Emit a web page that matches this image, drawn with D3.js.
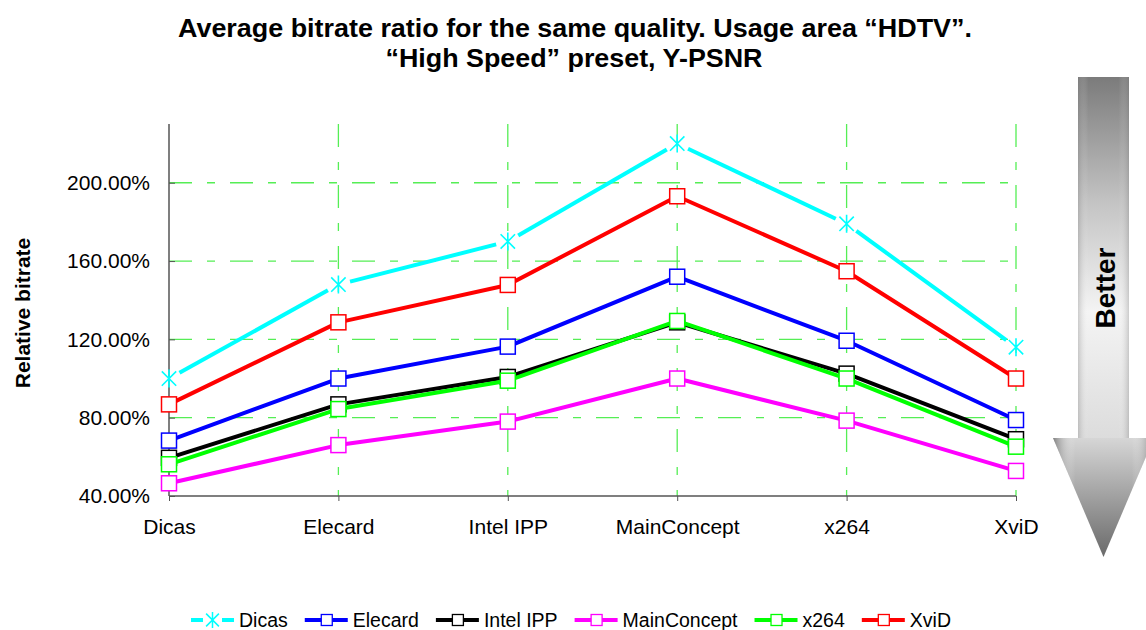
<!DOCTYPE html>
<html>
<head>
<meta charset="utf-8">
<script src="https://cdn.jsdelivr.net/npm/d3@7"></script>
<style>
    body { margin: 0; background: #ffffff; }
    text { font-family: "Liberation Sans", Arial, sans-serif; fill: #000000; }
</style>
</head>
<body>
<script>
// categories on the x axis (reference codec)
const categories = ["Dicas", "Elecard", "Intel IPP", "MainConcept", "x264", "XviD"];

// series values, relative bitrate (1 = 100%)
const dicasValues = [1.0, 1.48, 1.7, 2.2, 1.79, 1.16];
const elecardValues = [0.683, 1.0, 1.163, 1.52, 1.193, 0.788];
const intelValues = [0.595, 0.868, 1.008, 1.287, 1.025, 0.69];
const mainConceptValues = [0.465, 0.66, 0.78, 1.0, 0.785, 0.528];
const x264Values = [0.562, 0.844, 0.989, 1.294, 1.0, 0.652];
const xvidValues = [0.868, 1.287, 1.478, 1.931, 1.548, 1.0];

const seriesNames = ["Dicas", "Elecard", "Intel IPP", "MainConcept", "x264", "XviD"];
const seriesColors = ["#00ffff", "#0000ff", "#000000", "#ff00ff", "#00ff00", "#ff0000"];
const yTickValues = [0.4, 0.8, 1.2, 1.6, 2.0];
const yDomain = [0.4, 2.3];

(function () {
    "use strict";

    const width = 1146;
    const height = 630;
    const plot = { left: 169, right: 1016, top: 124, bottom: 496 };
    const gridColor = "#55ee55";
    const gridDash = "23,15,8,15";

    const series = [dicasValues, elecardValues, intelValues, mainConceptValues, x264Values, xvidValues].map((values, i) => ({
        name: seriesNames[i],
        color: seriesColors[i],
        star: i === 0,
        points: values.map((v, j) => ({ cat: categories[j], value: v })),
    }));

    const svg = d3.select("body").append("svg").attr("width", width).attr("height", height);
    const defs = svg.append("defs");

    const x = d3.scalePoint().domain(categories).range([plot.left, plot.right]);
    const y = d3.scaleLinear().domain(yDomain).range([plot.bottom, plot.top]);

    // title
    const title = svg.append("g").attr("font-weight", "bold").attr("text-anchor", "middle");
    title.append("text").attr("x", 575).attr("y", 37).attr("font-size", 26.5)
        .attr("textLength", 794).attr("lengthAdjust", "spacingAndGlyphs")
        .text("Average bitrate ratio for the same quality. Usage area \u201CHDTV\u201D.");
    title.append("text").attr("x", 574).attr("y", 67).attr("font-size", 26.5)
        .attr("textLength", 377).attr("lengthAdjust", "spacingAndGlyphs")
        .text("\u201CHigh Speed\u201D preset, Y-PSNR");

    // gridlines
    const grid = svg.append("g").attr("stroke", gridColor).attr("stroke-width", 1.3).attr("stroke-dasharray", gridDash);
    grid.selectAll(".hgrid")
        .data(yTickValues.filter((t) => t > yDomain[0]))
        .join("line")
        .attr("class", "hgrid")
        .attr("x1", plot.left)
        .attr("x2", plot.right)
        .attr("y1", (d) => y(d))
        .attr("y2", (d) => y(d));
    grid.selectAll(".vgrid")
        .data(categories.slice(1))
        .join("line")
        .attr("class", "vgrid")
        .attr("x1", (d) => x(d))
        .attr("x2", (d) => x(d))
        .attr("y1", plot.top)
        .attr("y2", plot.bottom);

    // axes
    const axisColor = "#555555";
    const yAxis = svg.append("g").attr("transform", `translate(${plot.left},0)`)
        .call(d3.axisLeft(y).tickValues(yTickValues).tickFormat(d3.format(".2%")).tickSizeInner(-6).tickSizeOuter(0).tickPadding(19));
    yAxis.select(".domain").remove();
    yAxis.selectAll(".tick line").attr("stroke", axisColor);
    yAxis.selectAll(".tick text").attr("font-size", 21).attr("font-family", "Liberation Sans, Arial, sans-serif");

    const xAxis = svg.append("g").attr("transform", `translate(0,${plot.bottom})`)
        .call(d3.axisBottom(x).tickSizeInner(5).tickSizeOuter(0).tickPadding(18));
    xAxis.select(".domain").remove();
    xAxis.selectAll(".tick line").attr("stroke", axisColor);
    xAxis.selectAll(".tick text").attr("font-size", 21).attr("font-family", "Liberation Sans, Arial, sans-serif");

    svg.append("line").attr("x1", plot.left).attr("x2", plot.left).attr("y1", plot.top).attr("y2", plot.bottom)
        .attr("stroke", axisColor).attr("stroke-width", 1.5);
    svg.append("line").attr("x1", plot.left).attr("x2", plot.right).attr("y1", plot.bottom).attr("y2", plot.bottom)
        .attr("stroke", axisColor).attr("stroke-width", 1.5);

    // y axis label
    svg.append("text")
        .attr("transform", "translate(30,313) rotate(-90)")
        .attr("text-anchor", "middle")
        .attr("font-weight", "bold")
        .attr("font-size", 21)
        .text("Relative bitrate");

    /**
     * Function that builds the star marker path
     * @param {number} s half size
     */
    const starPath = (s) => `M${-s * 0.8},${-s * 0.8}L${s * 0.8},${s * 0.8}M${-s * 0.8},${s * 0.8}L${s * 0.8},${-s * 0.8}M0,${-s}L0,${s}`;

    /**
     * Function that trims the segments between points, so the line leaves a gap around star markers
     */
    const trimmedSegments = (pts, gap) => {
        const segs = [];
        for (let i = 0; i < pts.length - 1; i++) {
            const [x1, y1] = pts[i];
            const [x2, y2] = pts[i + 1];
            const len = Math.hypot(x2 - x1, y2 - y1);
            const ux = (x2 - x1) / len;
            const uy = (y2 - y1) / len;
            segs.push([x1 + ux * gap, y1 + uy * gap, x2 - ux * gap, y2 - uy * gap]);
        }
        return segs;
    };

    const line = d3.line().x((d) => x(d.cat)).y((d) => y(d.value));

    // series lines and markers
    series.forEach((s) => {
        const g = svg.append("g");
        if (s.star) {
            const pts = s.points.map((d) => [x(d.cat), y(d.value)]);
            g.selectAll("line")
                .data(trimmedSegments(pts, 12))
                .join("line")
                .attr("x1", (d) => d[0])
                .attr("y1", (d) => d[1])
                .attr("x2", (d) => d[2])
                .attr("y2", (d) => d[3])
                .attr("stroke", s.color)
                .attr("stroke-width", 4);
            g.selectAll("path.marker")
                .data(s.points)
                .join("path")
                .attr("class", "marker")
                .attr("d", starPath(9))
                .attr("transform", (d) => `translate(${x(d.cat)},${y(d.value)})`)
                .attr("fill", "none")
                .attr("stroke", s.color)
                .attr("stroke-width", 1.6);
        } else {
            g.append("path")
                .datum(s.points)
                .attr("d", line)
                .attr("fill", "none")
                .attr("stroke", s.color)
                .attr("stroke-width", 4)
                .attr("stroke-linejoin", "round");
            g.selectAll("rect")
                .data(s.points)
                .join("rect")
                .attr("x", (d) => x(d.cat) - 7.5)
                .attr("y", (d) => y(d.value) - 7.5)
                .attr("width", 15)
                .attr("height", 15)
                .attr("fill", "#ffffff")
                .attr("stroke", s.color)
                .attr("stroke-width", 1.5);
        }
    });

    // "Better" arrow
    const shaftGrad = defs.append("linearGradient").attr("id", "shaftGrad").attr("x1", 0).attr("y1", 0).attr("x2", 0).attr("y2", 1);
    shaftGrad.append("stop").attr("offset", "0%").attr("stop-color", "#7b7b7b");
    shaftGrad.append("stop").attr("offset", "35%").attr("stop-color", "#c4c4c4");
    shaftGrad.append("stop").attr("offset", "65%").attr("stop-color", "#f4f4f4");
    shaftGrad.append("stop").attr("offset", "100%").attr("stop-color", "#dcdcdc");
    const edgeGrad = defs.append("linearGradient").attr("id", "edgeGrad").attr("x1", 0).attr("y1", 0).attr("x2", 1).attr("y2", 0);
    edgeGrad.append("stop").attr("offset", "0%").attr("stop-color", "#808080").attr("stop-opacity", 0.35);
    edgeGrad.append("stop").attr("offset", "20%").attr("stop-color", "#ffffff").attr("stop-opacity", 0);
    edgeGrad.append("stop").attr("offset", "80%").attr("stop-color", "#ffffff").attr("stop-opacity", 0);
    edgeGrad.append("stop").attr("offset", "100%").attr("stop-color", "#808080").attr("stop-opacity", 0.35);
    const headGrad = defs.append("linearGradient").attr("id", "headGrad").attr("x1", 0).attr("y1", 0).attr("x2", 0).attr("y2", 1);
    headGrad.append("stop").attr("offset", "0%").attr("stop-color", "#d6d6d6");
    headGrad.append("stop").attr("offset", "100%").attr("stop-color", "#6a6a6a");
    const headEdge = defs.append("linearGradient").attr("id", "headEdge").attr("x1", 0).attr("y1", 0).attr("x2", 1).attr("y2", 0);
    headEdge.append("stop").attr("offset", "0%").attr("stop-color", "#6a6a6a").attr("stop-opacity", 0.8);
    headEdge.append("stop").attr("offset", "22%").attr("stop-color", "#ffffff").attr("stop-opacity", 0);
    headEdge.append("stop").attr("offset", "78%").attr("stop-color", "#ffffff").attr("stop-opacity", 0);
    headEdge.append("stop").attr("offset", "100%").attr("stop-color", "#6a6a6a").attr("stop-opacity", 0.8);

    const arrow = { cx: 1103.5, shaftHalf: 25.5, headHalf: 50.5, top: 77, neck: 438, tip: 557 };
    const shaft = `M${arrow.cx - arrow.shaftHalf},${arrow.top}H${arrow.cx + arrow.shaftHalf}V${arrow.neck}H${arrow.cx - arrow.shaftHalf}Z`;
    const head = `M${arrow.cx - arrow.headHalf},${arrow.neck}H${arrow.cx + arrow.headHalf}L${arrow.cx},${arrow.tip}Z`;
    svg.append("path").attr("d", shaft).attr("fill", "url(#shaftGrad)");
    svg.append("path").attr("d", shaft).attr("fill", "url(#edgeGrad)");
    svg.append("path").attr("d", head).attr("fill", "url(#headGrad)");
    svg.append("path").attr("d", head).attr("fill", "url(#headEdge)");
    svg.append("text")
        .attr("transform", `translate(${arrow.cx + 11},288) rotate(-90)`)
        .attr("text-anchor", "middle")
        .attr("font-weight", "bold")
        .attr("font-size", 28)
        .text("Better");

    // legend
    const legend = svg.append("g").attr("transform", "translate(0,620)");
    let cursor = 191;
    series.forEach((s) => {
        const item = legend.append("g").attr("transform", `translate(${cursor},0)`);
        if (s.star) {
            item.append("line").attr("x1", 0).attr("x2", 12).attr("stroke", s.color).attr("stroke-width", 4);
            item.append("line").attr("x1", 31).attr("x2", 43).attr("stroke", s.color).attr("stroke-width", 4);
            item.append("path").attr("d", starPath(8)).attr("transform", "translate(21.5,0)")
                .attr("fill", "none").attr("stroke", s.color).attr("stroke-width", 1.5);
        } else {
            item.append("line").attr("x1", 0).attr("x2", 43).attr("stroke", s.color).attr("stroke-width", 4);
            item.append("rect").attr("x", 16.5).attr("y", -5.5).attr("width", 11).attr("height", 11)
                .attr("fill", "#ffffff").attr("stroke", s.color).attr("stroke-width", 1.3);
        }
        const label = item.append("text").attr("x", 48).attr("y", 7).attr("font-size", 19.5).text(s.name);
        cursor += 48 + label.node().getComputedTextLength() + 17;
    });
})();
</script>
</body>
</html>
